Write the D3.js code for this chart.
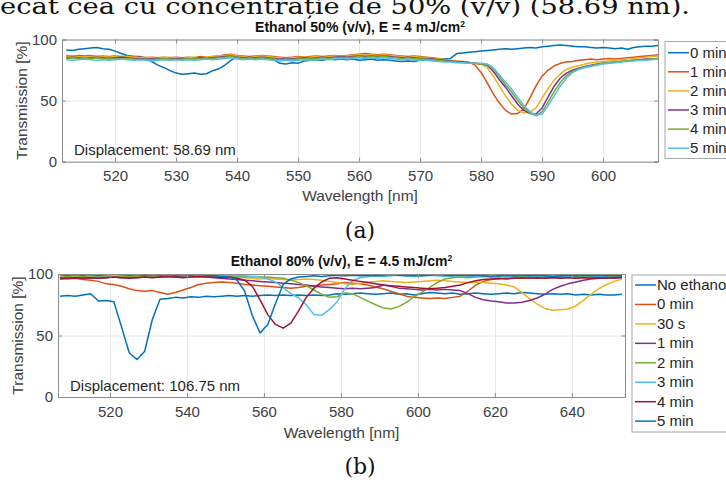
<!DOCTYPE html>
<html>
<head>
<meta charset="utf-8">
<script src="https://cdn.jsdelivr.net/npm/d3@7"></script>
<style>
body { margin: 0; background: #fff; }
svg { display: block; font-family: Arial, "Liberation Sans", sans-serif; }
</style>
</head>
<body>
<svg id="chart" width="726" height="484"></svg>
<script>
"use strict";

// ---- panel (a): Ethanol 50%, wavelength grid [nm]
var wl50 = [
  512, 513, 514, 515, 516, 517, 518, 519, 520, 521,
  522, 523, 524, 525, 526, 527, 528, 529, 530, 531,
  532, 533, 534, 535, 536, 537, 538, 539, 540, 541,
  542, 543, 544, 545, 546, 547, 548, 549, 550, 551,
  552, 553, 554, 555, 556, 557, 558, 559, 560, 561,
  562, 563, 564, 565, 566, 567, 568, 569, 570, 571,
  572, 573, 574, 575, 576, 577, 578, 579, 580, 581,
  582, 583, 584, 585, 586, 587, 588, 589, 590, 591,
  592, 593, 594, 595, 596, 597, 598, 599, 600, 601,
  602, 603, 604, 605, 606, 607, 608, 609
];
var labels50 = ["0 min", "1 min", "2 min", "3 min", "4 min", "5 min"];
var t50_0 = [
  91.5, 91, 92, 92.5, 93, 93.5, 92.5, 92, 90.5, 88.5,
  87, 86, 86, 85, 82, 79, 77, 74.5, 72.5, 71.5,
  72, 72.5, 71.5, 72, 74.5, 76, 79, 83, 86, 84,
  84.5, 84, 85, 84.5, 83.5, 80.5, 80, 81, 80.5, 82.5,
  83, 83.5, 83, 84, 83.5, 84, 83.5, 84, 83, 83.5,
  84, 83, 83.5, 83, 82.5, 82, 82.5, 82, 83, 83.5,
  84, 83.5, 84, 84.5, 88.5, 89, 89.5, 90, 90.5, 91,
  91.5, 92, 92.5, 92, 92.5, 93, 93.5, 93, 94, 94.5,
  95, 95.5, 95, 94.5, 94, 94, 93.5, 93, 93.5, 93,
  92.5, 93, 92, 93.5, 94, 94.5, 94.5, 95
];
var t50_1 = [
  87, 86.5, 87, 86.5, 87, 86, 86.5, 86, 86.5, 86,
  86.5, 86, 85.5, 85, 85.5, 85, 85.5, 85, 85.5, 85,
  85.5, 85, 86, 85.5, 86, 86.5, 87.5, 88, 87, 86.5,
  86, 86.5, 87, 86.5, 86, 85.5, 85, 85.5, 86, 85.5,
  86, 86.5, 86, 86.5, 87, 86.5, 87, 87.5, 88, 88.5,
  88, 87.5, 88, 87.5, 87, 86.5, 86, 86.5, 86, 85.5,
  85, 84.5, 83.5, 82.5, 82, 82, 81.5, 79, 73, 64.5,
  55.5, 48, 42, 39, 39.5, 43, 52, 62, 70, 75,
  78.5, 80.5, 81.5, 82, 83, 83.5, 84, 83.5, 84, 84.5,
  84, 84.5, 85, 85.5, 86, 86.5, 87, 87.5
];
var t50_2 = [
  86, 86.5, 86, 85.5, 86, 86.5, 86, 85.5, 86, 85.5,
  86, 85.5, 85, 85.5, 85, 84.5, 85, 85.5, 85, 84.5,
  85, 85.5, 85, 85.5, 86, 86.5, 87, 87.5, 86.5, 86,
  85.5, 86, 86.5, 86, 85.5, 85, 84.5, 85, 85.5, 85,
  85.5, 86, 85.5, 86, 86.5, 86, 86.5, 87, 87.5, 87,
  87.5, 87, 87.5, 87, 86.5, 86, 85.5, 86, 85.5, 85,
  84.5, 84, 83.5, 83, 82.5, 82, 81, 80.5, 80, 77,
  70, 62, 54, 47, 42, 40, 40.5, 44, 52, 60,
  67, 72, 75.5, 77.5, 78.5, 80, 81, 81.5, 82, 82.5,
  83, 83.5, 84, 84.5, 85, 85.5, 86, 86.5
];
var t50_3 = [
  85, 85.5, 85, 84.5, 85, 85.5, 85, 84.5, 85, 85.5,
  85, 84.5, 84, 84.5, 84, 84.5, 84, 84.5, 84, 84.5,
  84, 84.5, 85, 84.5, 85, 85.5, 86, 86.5, 85.5, 85,
  85.5, 85, 85.5, 85, 84.5, 84, 84.5, 84, 84.5, 85,
  84.5, 85, 85.5, 85, 85.5, 86, 85.5, 86, 86.5, 86,
  86.5, 86, 86.5, 86, 85.5, 85, 85.5, 85, 84.5, 84.5,
  84, 83.5, 83, 82.5, 82, 81.5, 81, 80.5, 80, 79,
  74, 67, 61, 54, 47, 42, 39.5, 39, 44, 53,
  62, 68.5, 72.5, 75, 76.5, 78, 79, 80, 80.5, 81,
  81.5, 82, 82.5, 83, 83.5, 84, 84, 84.5
];
var t50_4 = [
  84.5, 85, 84.5, 84, 84.5, 85, 84.5, 84, 84.5, 84,
  84.5, 84, 83.5, 84, 83.5, 84, 84.5, 84, 83.5, 84,
  84.5, 84, 84.5, 84, 84.5, 85, 85.5, 86, 85, 84.5,
  85, 84.5, 85, 84.5, 84, 83.5, 84, 83.5, 84, 84.5,
  84, 84.5, 85, 84.5, 85, 85.5, 85, 85.5, 86, 85.5,
  86, 85.5, 86, 85.5, 85, 84.5, 85, 84.5, 84, 84,
  83.5, 83, 82.5, 82, 81.5, 81, 80.5, 80.5, 80, 79.5,
  76, 69.5, 63, 57, 50, 44, 40, 37.5, 41, 49,
  57.5, 65, 70.5, 74, 76, 77.5, 78.5, 79.5, 80.5, 81,
  81.5, 82, 82.5, 83, 83, 83.5, 84, 84.5
];
var t50_5 = [
  83.5, 83, 83.5, 84, 83.5, 83, 83.5, 83, 83.5, 84,
  83.5, 83, 83.5, 83, 82.5, 83, 83.5, 83, 83.5, 83,
  83.5, 83, 83.5, 84, 83.5, 84, 84.5, 85, 84, 83.5,
  84, 83.5, 84, 83.5, 83, 82.5, 83, 82.5, 83, 83.5,
  83, 83.5, 84, 83.5, 84, 84.5, 84, 84.5, 85, 84.5,
  85, 84.5, 85, 84.5, 84, 83.5, 84, 83.5, 83, 83,
  82.5, 82, 81.5, 81.5, 81, 81, 80.5, 80.5, 80.5, 80,
  77, 71, 65, 59.5, 52.5, 46, 41, 38, 39, 46,
  54, 62, 68.5, 73, 75.5, 77, 78, 79, 80, 80.5,
  81, 81.5, 82, 82.5, 83, 83, 83.5, 84
];

// ---- panel (b): Ethanol 80%, wavelength grid [nm]
var wl80 = [
  507, 509, 511, 513, 515, 517, 519, 521, 523, 525,
  527, 529, 531, 533, 535, 537, 539, 541, 543, 545,
  547, 549, 551, 553, 555, 557, 559, 561, 563, 565,
  567, 569, 571, 573, 575, 577, 579, 581, 583, 585,
  587, 589, 591, 593, 595, 597, 599, 601, 603, 605,
  607, 609, 611, 613, 615, 617, 619, 621, 623, 625,
  627, 629, 631, 633, 635, 637, 639, 641, 643, 645,
  647, 649, 651, 653
];
var labels80 = ["No ethanol", "0 min", "30 s", "1 min", "2 min", "3 min", "4 min", "5 min"];
var t80_0 = [
  82, 82.5, 82, 83, 84, 78, 78.5, 77.5, 57, 36,
  30.5, 37, 63, 79.5, 80, 81, 80.5, 81.5, 81, 82,
  81.5, 82, 82.5, 82, 82.5, 82, 82.5, 83, 82.5, 83,
  82.5, 83, 82.5, 83, 82.5, 83, 84, 83.5, 84, 84.5,
  84, 83.5, 84, 84.5, 83.5, 84, 83, 84, 85, 84.5,
  84, 84.5, 83.5, 84, 84.5, 84, 83.5, 84, 84.5, 84,
  85, 84.5, 84, 83.5, 84, 83.5, 84, 83, 83.5, 83,
  83.5, 83, 83, 83.5
];
var t80_1 = [
  96.5, 96, 96.5, 95.5, 95, 94, 92, 91.5, 90, 88,
  86.5, 86, 86.5, 85, 83.5, 85, 87, 89, 91.5, 92.5,
  93, 93.5, 93, 92.5, 91.5, 91, 90.5, 90, 89.5, 89,
  88.5, 89, 90, 90.5, 91, 91.5, 92, 93, 92.5, 92,
  91, 89.5, 88, 86, 84, 82, 81, 80.5, 80, 80.5,
  80, 81, 82, 86, 91, 94, 95.5, 96, 96.5, 97,
  96.5, 97, 96.5, 97, 97.5, 97, 97.5, 97, 97.5, 97,
  97.5, 97, 97.5, 98
];
var t80_2 = [
  97, 97.5, 97, 97.5, 97, 97.5, 98, 97.5, 98, 97.5,
  98, 97.5, 98, 97.5, 98, 98.5, 98, 98.5, 98, 98.5,
  98, 97.5, 98, 97.5, 97, 96.5, 96, 96.5, 96, 95.5,
  95, 95.5, 96, 95.5, 95, 94, 93, 92, 91.5, 92.5,
  93.5, 94, 94.5, 94, 93.5, 93, 93.5, 94, 94.5, 95,
  94.5, 94, 93.5, 93, 93.5, 93, 92.5, 92, 91, 89.5,
  85, 80, 75.5, 72, 70.5, 71, 71.5, 74, 78.5, 83.5,
  88, 91.5, 94, 96
];
var t80_3 = [
  97, 96.5, 97, 96.5, 97, 96.5, 97, 97.5, 97, 97.5,
  97, 97.5, 98, 97.5, 98, 97.5, 98, 97.5, 98, 97.5,
  97, 96.5, 96, 95.5, 95, 94.5, 94, 93.5, 93, 92.5,
  92, 91.5, 91, 90, 89.5, 89, 88.5, 88, 88.5, 88,
  88.5, 89, 91, 90, 88.5, 88, 87.5, 87, 87.5, 87,
  87.5, 87, 86.5, 84, 81, 79, 78, 77.5, 76.5, 76.5,
  77, 78.5, 80.5, 83.5, 87.5, 90, 92, 93.5, 95, 96,
  96.5, 97, 96.5, 97
];
var t80_4 = [
  98.5, 98, 98.5, 98, 97.5, 98, 98.5, 98, 98.5, 98,
  98.5, 98, 98.5, 98, 98.5, 99, 98.5, 98, 98.5, 98,
  98.5, 98, 98.5, 98, 97.5, 98, 97.5, 97.5, 97, 96.5,
  95, 93, 90.5, 87, 83.5, 81, 81.5, 84.5, 84, 81,
  78, 75, 72.5, 71.5, 73.5, 77, 81.5, 85, 89, 93,
  96, 97, 97.5, 97, 97.5, 98, 97.5, 98, 97.5, 98,
  97.5, 98, 97.5, 98, 98.5, 98, 97.5, 98, 97.5, 98,
  97.5, 98, 97.5, 98
];
var t80_5 = [
  99, 99.5, 99, 99.5, 99, 98.5, 99, 99.5, 99, 99.5,
  99, 99.5, 99, 99.5, 99, 99.5, 99, 98.5, 99, 99.5,
  99, 98.5, 99, 98.5, 98.5, 98, 97.5, 96, 93.5, 89,
  84, 80.5, 75, 67, 66.5, 71, 77.5, 88, 94.5, 97,
  98, 98.5, 98, 98.5, 99, 98.5, 98, 98.5, 99, 98.5,
  98, 98.5, 99, 98.5, 98, 98.5, 99, 98.5, 98, 98.5,
  99, 98.5, 98, 98.5, 99, 98.5, 98, 98.5, 99, 98.5,
  98, 98.5, 99, 98.5
];
var t80_6 = [
  96, 96.5, 97, 96.5, 97, 96.5, 97, 97.5, 97, 96.5,
  97, 97.5, 97, 97.5, 98, 97.5, 97, 97.5, 98, 97.5,
  97.5, 97, 97.5, 96.5, 95, 90, 79, 67, 59, 56,
  60, 70, 81, 88.5, 93.5, 96.5, 97, 96, 95, 94,
  93, 92, 91, 90.5, 90, 89.5, 89, 88.5, 88, 88.5,
  89, 90, 91, 93, 94.5, 95.5, 96, 96.5, 96, 96.5,
  97, 96.5, 97, 96.5, 97, 96.5, 97, 96.5, 97, 96.5,
  97, 96.5, 97, 97.5
];
var t80_7 = [
  99.5, 99, 99.5, 99, 99.5, 99, 99.5, 100, 99.5, 99,
  99.5, 99, 99.5, 99, 99.5, 99, 99.5, 99, 99.5, 99,
  98.5, 98, 97.5, 95, 86, 66, 52, 59, 76, 91.5,
  96, 97.5, 98, 98.5, 98, 98.5, 99, 98.5, 99, 98.5,
  99, 98.5, 99, 99.5, 99, 98.5, 99, 98.5, 99, 99.5,
  99, 98.5, 99, 98.5, 99, 98.5, 98, 98.5, 99, 98.5,
  99, 98.5, 99, 98.5, 98, 98.5, 99, 98.5, 99, 98.5,
  99, 98.5, 99, 98.5
];

var xTicks50 = [520, 530, 540, 550, 560, 570, 580, 590, 600];
var xTicks80 = [520, 540, 560, 580, 600, 620, 640];
var yTicks = [0, 50, 100];

var matlabColors = ["#0072BD", "#D95319", "#EDB120", "#7E2F8E", "#77AC30", "#4DBEEE", "#A2142F"];

var svg = d3.select("#chart");
svg.append("rect").attr("width", 726).attr("height", 484).attr("fill", "#fff");

// bit of the document text above the figure (cut at the top edge)
svg.append("text")
  .attr("x", 0)
  .attr("y", 14)
  .attr("textLength", 690)
  .attr("lengthAdjust", "spacingAndGlyphs")
  .style("font-family", "'DejaVu Serif', 'Liberation Serif', serif")
  .style("font-size", "23px")
  .attr("fill", "#111")
  .text("ecat cea cu concentrație de 50% (v/v) (58.69 nm).");

function drawPanel(p) {
  var g = svg.append("g").attr("id", p.id);
  var x = d3.scaleLinear().domain(p.xDomain).range([p.l, p.r]);
  var y = d3.scaleLinear().domain([0, 100]).range([p.b, p.t]);

  // grid
  g.append("g")
    .attr("transform", "translate(0," + p.b + ")")
    .call(d3.axisBottom(x).tickValues(p.xTicks).tickSize(-(p.b - p.t)).tickFormat(""))
    .call(function(a) { a.select(".domain").remove(); })
    .selectAll("line").attr("stroke", "#e6e6e6");
  g.append("g")
    .attr("transform", "translate(" + p.l + ",0)")
    .call(d3.axisLeft(y).tickValues(yTicks).tickSize(-(p.r - p.l)).tickFormat(""))
    .call(function(a) { a.select(".domain").remove(); })
    .selectAll("line").attr("stroke", "#e6e6e6");

  // lines
  g.append("clipPath").attr("id", p.id + "clip")
    .append("rect").attr("x", p.l).attr("y", p.t).attr("width", p.r - p.l).attr("height", p.b - p.t);
  var line = d3.line()
    .x(function(d) { return x(d[0]); })
    .y(function(d) { return y(d[1]); });
  var lines = g.append("g").attr("clip-path", "url(#" + p.id + "clip)");
  p.series.forEach(function(s, i) {
    lines.append("path")
      .datum(p.wl.map(function(w, k) { return [w, s[k]]; }))
      .attr("fill", "none")
      .attr("stroke", matlabColors[i % matlabColors.length])
      .attr("stroke-width", 1.5)
      .attr("stroke-linejoin", "round")
      .attr("d", line);
  });

  // axes: labels + inward ticks on all sides
  var xa = g.append("g")
    .attr("transform", "translate(0," + p.b + ")")
    .call(d3.axisBottom(x).tickValues(p.xTicks).tickSize(-4).tickPadding(9));
  var xt = g.append("g")
    .attr("transform", "translate(0," + p.t + ")")
    .call(d3.axisTop(x).tickValues(p.xTicks).tickSize(-4).tickFormat(""));
  var ya = g.append("g")
    .attr("transform", "translate(" + p.l + ",0)")
    .call(d3.axisLeft(y).tickValues(yTicks).tickSize(-4).tickPadding(5));
  var yr = g.append("g")
    .attr("transform", "translate(" + p.r + ",0)")
    .call(d3.axisRight(y).tickValues(yTicks).tickSize(-4).tickFormat(""));
  [xa, xt, ya, yr].forEach(function(a) {
    a.select(".domain").attr("stroke", "#8c8c8c");
    a.selectAll(".tick line").attr("stroke", "#8c8c8c");
    a.selectAll("text")
      .attr("fill", "#404040")
      .style("font-size", "15px")
      .style("font-family", "Arial, 'Liberation Sans', sans-serif");
  });

  // titles
  var title = g.append("text")
    .attr("x", (p.l + p.r) / 2)
    .attr("y", p.titleY)
    .attr("text-anchor", "middle")
    .attr("fill", "#111")
    .style("font-size", "14px")
    .style("font-weight", "bold")
    .text(p.title);
  title.append("tspan").attr("dy", -5).style("font-size", "8.5px").text("2");

  g.append("text")
    .attr("x", (p.l + p.r) / 2)
    .attr("y", p.xLabelY)
    .attr("text-anchor", "middle")
    .attr("fill", "#404040")
    .style("font-size", "15.5px")
    .text("Wavelength [nm]");
  g.append("text")
    .attr("transform", "translate(" + p.yLabelX + "," + (p.t + p.b) / 2 + ") rotate(-90)")
    .attr("text-anchor", "middle")
    .attr("fill", "#404040")
    .style("font-size", "15.5px")
    .text("Transmission [%]");

  g.append("text")
    .attr("x", p.dispX)
    .attr("y", p.dispY)
    .attr("fill", "#262626")
    .style("font-size", "15px")
    .text(p.disp);

  // legend
  var leg = g.append("g");
  leg.append("rect")
    .attr("x", p.legX).attr("y", p.legY)
    .attr("width", 110).attr("height", p.legH)
    .attr("fill", "#fff").attr("stroke", "#a6a6a6");
  p.labels.forEach(function(lab, i) {
    var ly = p.legY0 + i * p.legStep;
    leg.append("line")
      .attr("x1", p.legX + 3).attr("x2", p.legX + 24)
      .attr("y1", ly).attr("y2", ly)
      .attr("stroke", matlabColors[i % matlabColors.length])
      .attr("stroke-width", 1.5);
    leg.append("text")
      .attr("x", p.legX + 25).attr("y", ly + 5)
      .attr("fill", "#262626")
      .style("font-size", "15px")
      .text(lab);
  });

  // caption under the figure
  svg.append("text")
    .attr("x", 360)
    .attr("y", p.captionY)
    .attr("text-anchor", "middle")
    .style("font-family", "'DejaVu Serif', 'Liberation Serif', serif")
    .style("font-size", "22px")
    .attr("fill", "#111")
    .text(p.caption);
}

drawPanel({
  id: "panelA", l: 62, r: 658, t: 39.5, b: 161.7,
  xDomain: [511.3, 609], xTicks: xTicks50, wl: wl50, labels: labels50,
  series: [t50_0, t50_1, t50_2, t50_3, t50_4, t50_5],
  title: "Ethanol 50% (v/v), E = 4 mJ/cm", titleY: 32,
  xLabelY: 201, yLabelX: 27,
  disp: "Displacement: 58.69 nm", dispX: 74, dispY: 155,
  legX: 665, legY: 41.5, legH: 117, legY0: 52.7, legStep: 19.1,
  caption: "(a)", captionY: 238
});

drawPanel({
  id: "panelB", l: 58, r: 625, t: 274, b: 397,
  xDomain: [506.5, 653.8], xTicks: xTicks80, wl: wl80, labels: labels80,
  series: [t80_0, t80_1, t80_2, t80_3, t80_4, t80_5, t80_6, t80_7],
  title: "Ethanol 80% (v/v), E = 4.5 mJ/cm", titleY: 266,
  xLabelY: 438, yLabelX: 23,
  disp: "Displacement: 106.75 nm", dispX: 70, dispY: 391,
  legX: 632, legY: 275, legH: 157, legY0: 285, legStep: 19.45,
  caption: "(b)", captionY: 474
});
</script>
</body>
</html>
